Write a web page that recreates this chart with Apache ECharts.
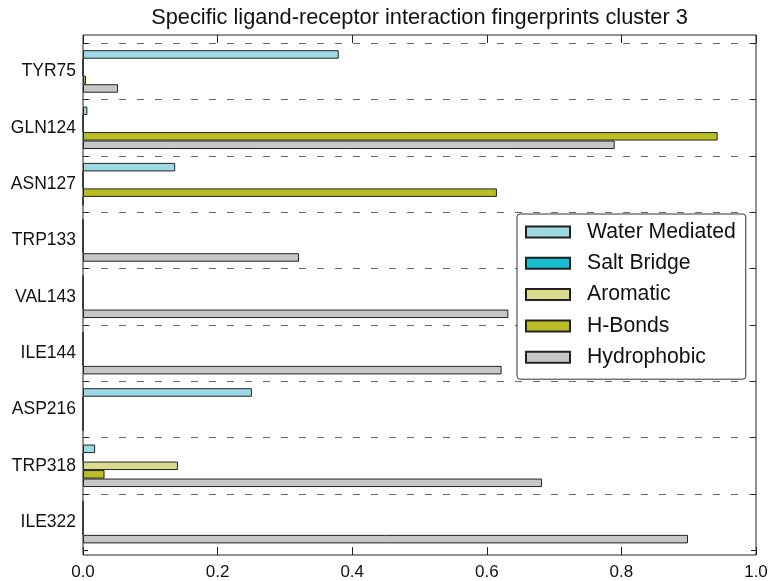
<!DOCTYPE html>
<html>
<head>
<meta charset="utf-8">
<script src="https://cdn.jsdelivr.net/npm/echarts@6/dist/echarts.min.js"></script>
<style>
html,body{margin:0;padding:0;background:#fff;}
#chart{width:772px;height:581px;}
</style>
</head>
<body>
<div id="chart"></div>
<script>
const titleText = 'Specific ligand-receptor interaction fingerprints cluster 3';
const categories = ['TYR75', 'GLN124', 'ASN127', 'TRP133', 'VAL143', 'ILE144', 'ASP216', 'TRP318', 'ILE322'];
const seriesNames = ['Water Mediated', 'Salt Bridge', 'Aromatic', 'H-Bonds', 'Hydrophobic'];
const waterMediated = [0.380, 0.0065, 0.137, 0, 0, 0, 0.251, 0.018, 0];
const saltBridge = [0, 0, 0, 0, 0, 0, 0, 0, 0];
const aromatic = [0, 0, 0, 0, 0, 0, 0, 0.141, 0];
const hBonds = [0.0045, 0.943, 0.615, 0, 0, 0, 0, 0.032, 0];
const hydrophobic = [0.052, 0.790, 0, 0.321, 0.632, 0.622, 0, 0.682, 0.899];
const xTicks = [0, 0.2, 0.4, 0.6, 0.8, 1.0];

const seriesValues = [waterMediated, saltBridge, aromatic, hBonds, hydrophobic];
const colors = ['#9edae5', '#17becf', '#dbdb8d', '#bcbd22', '#c7c7c7'];

const FONT = 'Liberation Sans, Arial, sans-serif';
const splitColors = [];
for (let i = 0; i < categories.length; i++) splitColors.push('#6a6a6a');
splitColors.push('rgba(0,0,0,0)');

const chart = echarts.init(document.getElementById('chart'), null, {renderer: 'canvas'});
const option = {
  animation: false,
  backgroundColor: '#fff',
  title: {
    text: titleText,
    left: 419.5,
    textAlign: 'center',
    top: 7,
    padding: 0,
    textStyle: {fontFamily: FONT, fontSize: 21.8, fontWeight: 'normal', color: '#111'}
  },
  legend: {
    orient: 'vertical',
    left: 517,
    top: 214,
    width: 230,
    padding: [7, 10, 11, 8],
    backgroundColor: '#fff',
    borderColor: '#333',
    borderWidth: 1,
    borderRadius: 3,
    itemWidth: 44,
    itemHeight: 11,
    itemGap: 9.3,
    selectedMode: false,
    icon: 'rect',
    data: seriesNames,
    textStyle: {fontFamily: FONT, fontSize: 21.2, color: '#111', lineHeight: 22, padding: [0, 0, 0, 12]}
  },
  grid: [
    {left: 83, right: 16, top: 43.3, bottom: 30.7, containLabel: false},
    {left: 83, right: 16, top: 35, bottom: 25, show: true, borderColor: '#222', borderWidth: 1, backgroundColor: 'transparent', containLabel: false}
  ],
  xAxis: [
    {gridIndex: 0, type: 'value', min: 0, max: 1, interval: 0.2, show: false},
    {
      gridIndex: 1, type: 'value', min: 0, max: 1, interval: 0.2, position: 'bottom',
      axisLine: {show: false},
      axisTick: {show: true, inside: true, length: 8, lineStyle: {color: '#222', width: 1}},
      axisLabel: {fontFamily: FONT, fontSize: 17, color: '#111', margin: 9, formatter: v => v.toFixed(1)},
      splitLine: {show: false}
    },
    {
      gridIndex: 1, type: 'value', min: 0, max: 1, interval: 0.2, position: 'top',
      axisLine: {show: false},
      axisTick: {show: true, inside: true, length: 8, lineStyle: {color: '#222', width: 1}},
      axisLabel: {show: false},
      splitLine: {show: false}
    }
  ],
  yAxis: [
    {
      gridIndex: 0, type: 'category', inverse: true, data: categories,
      axisLine: {show: false},
      axisTick: {show: true, inside: true, length: 5, lineStyle: {color: '#222'}},
      axisLabel: {fontFamily: FONT, fontSize: 17.5, color: '#111', margin: 7},
      splitLine: {show: true, lineStyle: {color: splitColors, type: [7, 11], width: 1}}
    },
    {
      gridIndex: 0, type: 'category', inverse: true, data: categories, position: 'right',
      axisLine: {show: false},
      axisTick: {show: true, inside: true, length: 5, lineStyle: {color: '#222'}},
      axisLabel: {show: false},
      splitLine: {show: false}
    },
    {gridIndex: 1, type: 'value', min: 0, max: 1, show: false}
  ],
  series: seriesNames.map((name, i) => ({
    name: name,
    type: 'bar',
    xAxisIndex: 0,
    yAxisIndex: 0,
    data: seriesValues[i],
    barWidth: 8.5,
    barGap: '0%',
    itemStyle: {color: colors[i], borderColor: '#222', borderWidth: 1},
    emphasis: {disabled: true}
  }))
};
chart.setOption(option);
</script>
</body>
</html>
